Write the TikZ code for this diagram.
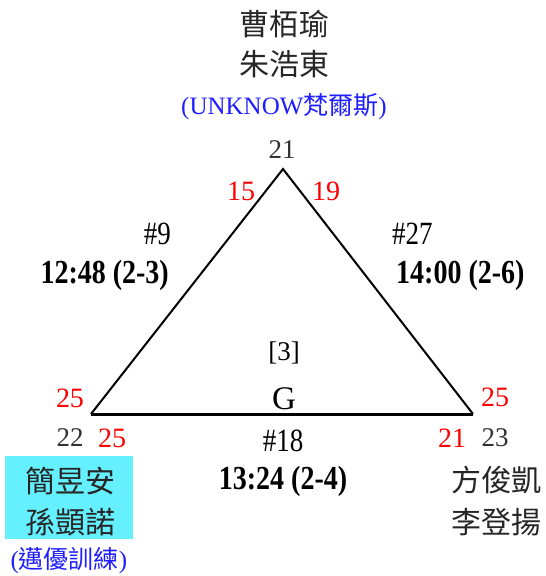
\documentclass[tikz,border=0pt]{standalone}
\usepackage{fontspec}
\setmainfont{Liberation Serif}
\newfontfamily\cjk{Noto Sans CJK TC}
\usepackage{xcolor}
\usepackage{graphicx}
\usetikzlibrary{positioning}
\definecolor{scoreRed}{RGB}{255,0,0}
\definecolor{seedGray}{RGB}{50,50,50}
\definecolor{clubBlue}{RGB}{30,30,255}
\definecolor{winCyan}{RGB}{100,240,255}
\newcommand\tallt[1]{\scalebox{1}[1.2]{#1}}
\tikzset{
  player/.style={font=\cjk\fontsize{30}{34}\selectfont,text=black!85,inner sep=0pt},
  club/.style={font=\fontsize{25}{28}\selectfont,text=clubBlue,inner sep=0pt},
  seed/.style={font=\fontsize{27}{30}\selectfont,text=seedGray,inner sep=0pt},
  pts/.style={font=\fontsize{28}{30}\selectfont,text=scoreRed,inner sep=0pt},
  mnum/.style={font=\fontsize{27}{30}\selectfont,inner sep=0pt},
  mtime/.style={font=\bfseries\fontsize{28}{30}\selectfont,inner sep=0pt},
  side/.style={line width=2pt},
  base/.style={line width=3pt},
}
\begin{document}
\begin{tikzpicture}[x=1pt,y=-1pt]
  \useasboundingbox (0,0) rectangle (546,576);
  % triangle corners
  \coordinate (top) at (283,169);
  \coordinate (bl)  at (91,414);
  \coordinate (br)  at (473,414);
  \draw[side] (bl) -- (top) -- (br);
  \draw[base] (bl) -- (br);

  % top player
  \node[player] (p1a) at (284,24) {曹栢瑜};
  \node[player] (p1b) at (284,64) {朱浩東};
  \node[club]   (c1)  at (284,107) {(UNKNOW{\cjk 梵爾斯})};
  \node[seed]   (s1)  at (282,150) {21};
  \node[pts]    (t15) at (241,191) {15};
  \node[pts]    (t19) at (326,191) {19};

  % left player
  \node[fill=winCyan,minimum width=128pt,minimum height=83pt] (win) at (69,497.5) {};
  \node[player] (p2a) at (70,481) {簡昱安};
  \node[player] (p2b) at (70,522) {孫顗諾};
  \node[club]   (c2)  at (69,561) {({\cjk 邁優訓練})};
  \node[seed]   (s2)  at (70,438) {22};
  \node[pts]    (l25) at (70,398) {25};
  \node[pts]    (b25) at (112,438) {25};

  % right player
  \node[player] (p3a) at (496,480) {方俊凱};
  \node[player] (p3b) at (496,522) {李登揚};
  \node[seed]   (s3)  at (495,438) {23};
  \node[pts]    (r25) at (495,397) {25};
  \node[pts]    (b21) at (452,438) {21};

  % matches
  \node[mnum,anchor=east]  (m9)   at (171,234) {\tallt{\#9}};
  \node[mtime,anchor=east] (m9t)  at (169,275) {\tallt{12:48 (2-3)}};
  \node[mnum,anchor=west]  (m27)  at (392,234) {\tallt{\#27}};
  \node[mtime,anchor=west] (m27t) at (396,275) {\tallt{14:00 (2-6)}};
  \node[mnum]              (m18)  at (283,441) {\tallt{\#18}};
  \node[mtime]             (m18t) at (283,481) {\tallt{13:24 (2-4)}};

  % group
  \node[seed,text=black] (grp) at (284,353) {[3]};
  \node[font=\fontsize{33}{35}\selectfont,inner sep=0pt] (g) at (284,399) {G};
\end{tikzpicture}
\end{document}
